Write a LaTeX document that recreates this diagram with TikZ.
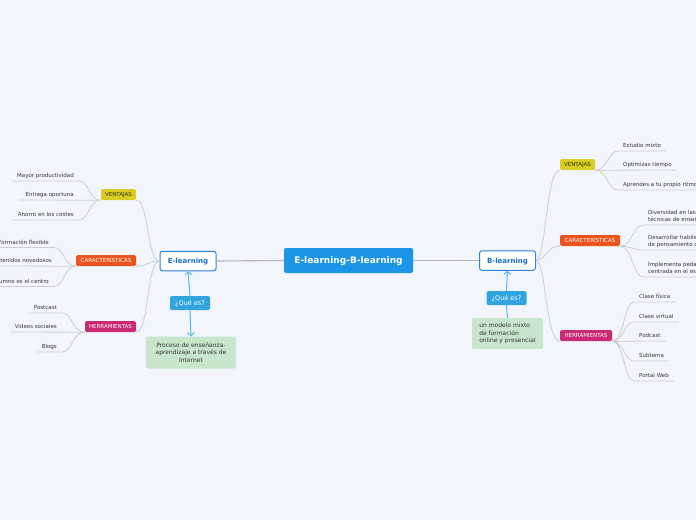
\documentclass[tikz,border=0pt]{standalone}
\usepackage{fontspec}
\setmainfont{DejaVu Sans}
\usetikzlibrary{arrows.meta}
\definecolor{bg}{HTML}{F3F5FD}
\definecolor{ctrfill}{HTML}{1B96E7}
\definecolor{elborder}{HTML}{2C80D8}
\definecolor{eltext}{HTML}{1C6DCB}
\definecolor{qfill}{HTML}{2FA4DF}
\definecolor{qline}{HTML}{55B6EA}
\definecolor{greenfill}{HTML}{C8E6CB}
\definecolor{txt}{HTML}{353535}
\definecolor{yel}{HTML}{D9CC22}
\definecolor{yeltext}{HTML}{3A3510}
\definecolor{ora}{HTML}{E9531D}
\definecolor{mag}{HTML}{C92A73}
\definecolor{lgray}{HTML}{CBCED5}
\definecolor{mgray}{HTML}{B2B5BC}
\newcommand{\leaffont}{\fontsize{5.5}{7}\selectfont}
\tikzset{
  centerbox/.style={fill=ctrfill, rounded corners=2pt, text=white, font=\fontsize{9}{10}\selectfont\bfseries, minimum width=129pt, minimum height=25pt, inner sep=0pt, text height=6.6pt, text depth=0pt},
  mainbox/.style={fill=white, draw=elborder, line width=1pt, rounded corners=2.5pt, text=eltext, font=\fontsize{7}{8}\selectfont\bfseries, minimum width=56pt, minimum height=19.5pt, inner sep=0pt, text height=5.1pt, text depth=0pt},
  qbox/.style={fill=qfill, rounded corners=1.5pt, text=white, font=\fontsize{6.5}{7.5}\selectfont, minimum width=40pt, minimum height=14pt, inner sep=0pt, text height=4.7pt, text depth=0pt},
  greenbox/.style={fill=greenfill, rounded corners=2pt, text=txt, font=\fontsize{6}{7.6}\selectfont, inner sep=0pt},
  lab/.style={rounded corners=1.5pt, font=\fontsize{5.5}{6.5}\selectfont, minimum height=11pt, inner sep=0pt, text height=4pt, text depth=0pt},
  leafL/.style={anchor=south east, font=\leaffont, text=txt, inner xsep=5pt, inner ysep=0pt, text height=4.2pt, text depth=3pt},
  leafR/.style={anchor=south west, font=\leaffont, text=txt, inner xsep=5pt, inner ysep=0pt, text height=4.2pt, text depth=3pt},
  leafR2/.style={anchor=south west, font=\leaffont, text=txt, inner xsep=5pt, inner ysep=0pt, align=left, text depth=3.6pt},
  branch/.style={draw=lgray, line width=0.8pt},
  trunk/.style={draw=mgray, line width=1.1pt},
  qarrow/.style={draw=qline, line width=1pt},
}
\begin{document}
\begin{tikzpicture}[x=1pt,y=-1pt]
\useasboundingbox (0,0) rectangle (696,520);
\fill[bg] (0,0) rectangle (696,520);
\clip (0,0) rectangle (696,520);

% main nodes
\node[centerbox] (ctr) at (348.5,260.5) {E-learning-B-learning};
\node[mainbox] (el) at (188,261) {E-learning};
\node[mainbox] (bl) at (507.5,260.5) {B-learning};
\node[qbox] (q1) at (190,303) {¿Qué es?};
\node[greenbox, align=center, minimum width=90pt, minimum height=32pt] (d1) at (191,352.5) {Proceso de enseñanza-\\aprendizaje a través de\\Internet};
\node[qbox] (q2) at (506.5,298) {¿Qué es?};
\node[greenbox, align=left, minimum width=71pt, minimum height=31pt] (d2) at (507.5,333.5) {un modelo mixto\\de formación\\online y presencial};

% category labels
\node[lab, fill=yel, text=yeltext, minimum width=35pt] (vl) at (118.5,194.5) {VENTAJAS};
\node[lab, fill=ora, text=white, minimum width=60pt] (cl) at (106,260.5) {CARACTERÍSTICAS};
\node[lab, fill=mag, text=white, minimum width=51pt] (hl) at (110.5,326.5) {HERRAMIENTAS};
\node[lab, fill=yel, text=yeltext, minimum width=35pt] (vr) at (577.5,164.5) {VENTAJAS};
\node[lab, fill=ora, text=white, minimum width=60pt] (cr) at (590,240.5) {CARACTERÍSTICAS};
\node[lab, fill=mag, text=white, minimum width=52pt] (hr) at (586,335.5) {HERRAMIENTAS};

% left leaves
\node[leafL] (lv1) at (79,181) {Mayor productividad};
\node[leafL] (lv2) at (79,200) {Entrega oportuna};
\node[leafL] (lv3) at (79,220) {Ahorro en los costes};
\node[leafL] (lc1) at (54,247.5) {Formación flexible};
\node[leafL] (lc2) at (57,266) {Contenidos novedosos};
\node[leafL] (lc3) at (54,286.5) {El alumno es el centro};
\node[leafL] (lh1) at (62,313) {Postcast};
\node[leafL] (lh2) at (62,332) {Videos sociales};
\node[leafL] (lh3) at (62,352) {Blogs};

% right leaves
\node[leafR] (rv1) at (618,151) {Estudio mixto};
\node[leafR] (rv2) at (618,170) {Optimizas tiempo};
\node[leafR] (rv3) at (618,190) {Aprendes a tu propio ritmo};
\node[leafR2] (rc1) at (643,225) {Diversidad en las\\técnicas de enseñanza};
\node[leafR2] (rc2) at (643,250) {Desarrollar habilidades\\de pensamiento crítico};
\node[leafR2] (rc3) at (643,277) {Implementa pedagogía\\centrada en el estudiante};
\node[leafR] (rh1) at (634,302) {Clase física};
\node[leafR] (rh2) at (634,322) {Clase virtual};
\node[leafR] (rh3) at (634,341) {Podcast};
\node[leafR] (rh4) at (634,361) {Subtema};
\node[leafR] (rh5) at (634,381) {Portal Web};

% trunk connectors
\draw[trunk] (ctr.west) -- (el.east);
\draw[trunk] (ctr.east) -- (bl.west);

% branches E-learning
\draw[branch] (el.west) .. controls +(-13,0) and +(13,0) .. (vl.south east);
\draw[branch] (el.west) .. controls +(-13,0) and +(13,0) .. (cl.south east);
\draw[branch] (el.west) .. controls +(-13,0) and +(13,0) .. (hl.south east);
% branches B-learning
\draw[branch] (bl.east) .. controls +(10,0) and +(-14,0) .. (vr.south west);
\draw[branch] (bl.east) .. controls +(10,0) and +(-14,0) .. (cr.south west);
\draw[branch] (bl.east) .. controls +(10,0) and +(-14,0) .. (hr.south west);

% left leaf connectors
\draw[branch] (vl.south west) .. controls +(-12,0) and +(10,0) .. (lv1.south east) -- (lv1.south west);
\draw[branch] (vl.south west) -- (lv2.south west);
\draw[branch] (vl.south west) .. controls +(-12,0) and +(10,0) .. (lv3.south east) -- (lv3.south west);
\draw[branch] (cl.south west) .. controls +(-12,0) and +(10,0) .. (lc1.south east) -- (lc1.south west);
\draw[branch] (cl.south west) -- (lc2.south west);
\draw[branch] (cl.south west) .. controls +(-12,0) and +(10,0) .. (lc3.south east) -- (lc3.south west);
\draw[branch] (hl.south west) .. controls +(-12,0) and +(10,0) .. (lh1.south east) -- (lh1.south west);
\draw[branch] (hl.south west) -- (lh2.south west);
\draw[branch] (hl.south west) .. controls +(-12,0) and +(10,0) .. (lh3.south east) -- (lh3.south west);

% right leaf connectors
\draw[branch] (vr.south east) .. controls +(12,0) and +(-10,0) .. (rv1.south west) -- (rv1.south east);
\draw[branch] (vr.south east) -- (rv2.south east);
\draw[branch] (vr.south east) .. controls +(12,0) and +(-10,0) .. (rv3.south west) -- (rv3.south east);
\draw[branch] (cr.south east) .. controls +(12,0) and +(-10,0) .. (rc1.south west) -- (rc1.south east);
\draw[branch] (cr.south east) .. controls +(12,0) and +(-10,0) .. (rc2.south west) -- (rc2.south east);
\draw[branch] (cr.south east) .. controls +(12,0) and +(-10,0) .. (rc3.south west) -- (rc3.south east);
\draw[branch] (hr.south east) .. controls +(12,0) and +(-10,0) .. (rh1.south west) -- (rh1.south east);
\draw[branch] (hr.south east) .. controls +(12,0) and +(-10,0) .. (rh2.south west) -- (rh2.south east);
\draw[branch] (hr.south east) -- (rh3.south east);
\draw[branch] (hr.south east) .. controls +(12,0) and +(-10,0) .. (rh4.south west) -- (rh4.south east);
\draw[branch] (hr.south east) .. controls +(12,0) and +(-10,0) .. (rh5.south west) -- (rh5.south east);

% ¿Qué es? arrows
\draw[qarrow, {Straight Barb[length=3pt,width=7pt]}-] (el.south) -- (q1.north);
\draw[qarrow, -{Straight Barb[length=3pt,width=7pt]}] (q1.south) -- (d1.north);
\draw[qarrow] (d2.north) -- (q2.south);
\draw[qarrow, -{Straight Barb[length=3pt,width=7pt]}] (q2.north) -- (bl.south);
\end{tikzpicture}
\end{document}
